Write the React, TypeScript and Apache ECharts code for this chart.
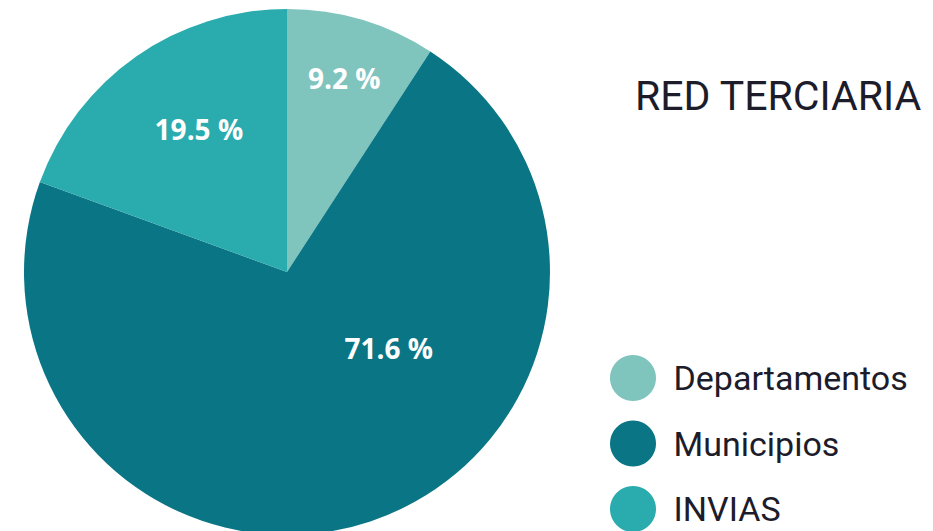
import React, { useEffect, useRef } from "react";
import * as echarts from "echarts";

const categories = ["Departamentos", "Municipios", "INVIAS"];
const values = [9.2, 71.6, 19.5];
const colors = ["#7fc4bd", "#0a7685", "#2aabae"];
const titleText = "RED TERCIARIA";
const labelShifts = [
  [19, -65],
  [59, -52],
  [-11, -33],
];

export default function App() {
  const ref = useRef<HTMLDivElement>(null);
  useEffect(() => {
    const chart = echarts.init(ref.current!, null, { renderer: "svg" });
    chart.setOption({
      animation: false,
      backgroundColor: "#ffffff",
      title: {
        text: titleText,
        left: 630,
        top: 70,
        textStyle: {
          fontFamily: "Roboto",
          fontWeight: "normal",
          fontSize: 41,
          color: "#1c1c2a",
        },
      },
      legend: {
        orient: "vertical",
        left: 610,
        top: 355,
        padding: 0,
        height: 200,
        icon: "circle",
        itemWidth: 47,
        itemHeight: 46,
        itemGap: 19.5,
        data: categories,
        textStyle: {
          fontFamily: "Roboto",
          fontSize: 34,
          color: "#1c1c2a",
          padding: [0, 0, 0, 12],
        },
      },
      series: [
        {
          type: "pie",
          center: [287, 272],
          radius: [0, 263],
          startAngle: 90,
          clockwise: true,
          label: {
            show: true,
            position: "inside",
            formatter: "{c} %",
            color: "#ffffff",
            fontFamily: "Open Sans",
            fontWeight: "bold",
            fontSize: 28,
          },
          labelLayout: (p: any) => {
            const s = labelShifts[p.dataIndex] || [0, 0];
            return { dx: s[0], dy: s[1] };
          },
          labelLine: { show: false },
          itemStyle: { borderWidth: 0 },
          emphasis: { disabled: true },
          data: categories.map((name, i) => ({
            name,
            value: values[i],
            itemStyle: { color: colors[i] },
          })),
        },
      ],
    });
    return () => chart.dispose();
  }, []);
  return <div ref={ref} style={{ width: 933, height: 531, marginLeft: -8, marginTop: -8 }} />;
}
